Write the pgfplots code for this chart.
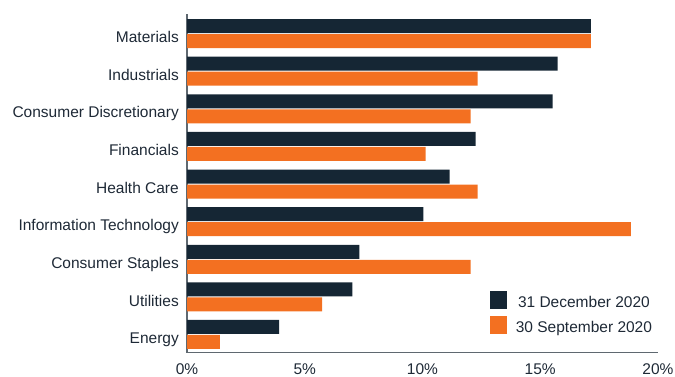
\documentclass[border=0pt]{standalone}
\usepackage{fontspec}
\setmainfont{Liberation Sans}
\usepackage{pgfplots}
\pgfplotsset{compat=1.18}
\definecolor{navy}{HTML}{152634}
\definecolor{orng}{HTML}{F37021}
\definecolor{txt}{HTML}{1E2936}
\definecolor{axgray}{HTML}{5F6870}
\begin{document}
\begin{tikzpicture}
\useasboundingbox (0,0) rectangle (675pt,376pt);
\begin{axis}[
  at={(187pt,23.3pt)}, anchor=south west,
  scale only axis, width=471pt, height=338.7pt,
  xbar, bar width=14pt,
  xmin=0, xmax=20, ymin=-0.484, ymax=8.519,
  axis x line*=bottom, axis y line*=left,
  axis line style={axgray, line width=1.3pt},
  xtick={0,5,10,15,20},
  xticklabel={\pgfmathprintnumber{\tick}\%},
  ytick={0,...,8},
  yticklabels={Energy,Utilities,Consumer Staples,Information Technology,Health Care,Financials,Consumer Discretionary,Industrials,Materials},
  major tick length=0pt,
  /pgf/number format/assume math mode=true,
  tick label style={font=\fontsize{15.5}{18}\selectfont, text=txt},
  yticklabel style={anchor=base east, inner sep=0pt, xshift=-8pt, yshift=-9.2pt},
  xticklabel style={anchor=base, inner sep=0pt, yshift=-21.3pt},
  legend style={at={(rel axis cs:0.643,0.182)}, anchor=north west, draw=none, fill=none,
    inner sep=0pt, outer sep=0pt, row sep=7pt, font=\fontsize{15.5}{18}\selectfont, text=txt,
    nodes={inner sep=0pt}, /tikz/every odd column/.append style={column sep=9pt}},
  legend image code/.code={\fill[#1] (0pt,-6.2pt) rectangle (17pt,11.8pt);},
]
\addplot[fill=navy, draw=none, bar shift=7.5pt] coordinates {(3.91,0) (7.02,1) (7.32,2) (10.04,3) (11.15,4) (12.26,5) (15.53,6) (15.74,7) (17.15,8)};
\addplot[fill=orng, draw=none, bar shift=-7.5pt] coordinates {(1.40,0) (5.74,1) (12.04,2) (18.85,3) (12.34,4) (10.13,5) (12.04,6) (12.34,7) (17.15,8)};
\legend{31 December 2020, 30 September 2020}
\end{axis}
\end{tikzpicture}
\end{document}
